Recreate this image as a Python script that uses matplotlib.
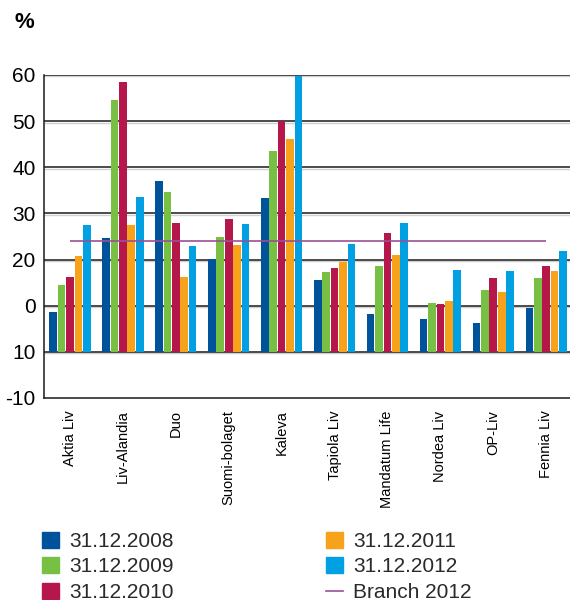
import matplotlib.pyplot as plt
import matplotlib.transforms as mtransforms
from matplotlib.patches import Patch
from matplotlib.lines import Line2D
import numpy as np

companies = ['Aktia Liv', 'Liv-Alandia', 'Duo', 'Suomi-bolaget', 'Kaleva',
             'Tapiola Liv', 'Mandatum Life', 'Nordea Liv', 'OP-Liv', 'Fennia Liv']
years = ['31.12.2008', '31.12.2009', '31.12.2010', '31.12.2011', '31.12.2012']

v2008 = [8.7, 24.7, 37.1, 20.2, 33.4, 15.6, 8.2, 7.2, 6.3, 9.5]
v2009 = [14.5, 54.6, 34.7, 24.9, 43.6, 17.3, 18.6, 10.6, 13.4, 16.0]
v2010 = [16.3, 58.5, 28.0, 28.8, 50.0, 18.2, 25.8, 10.4, 16.0, 18.6]
v2011 = [20.8, 27.5, 16.3, 23.2, 46.2, 19.5, 21.0, 11.1, 13.0, 17.6]
v2012 = [27.5, 33.6, 23.0, 27.7, 59.8, 23.4, 28.0, 17.8, 17.6, 21.9]
branch_2012 = 24.0

# y labels as printed on the original chart
ytick_values = [60, 50, 40, 30, 20, 10, 0, -10]
ytick_labels = ['60', '50', '40', '30', '20', '0', '10', '-10']

colors = ['#00529b', '#77c043', '#b5174a', '#f7a21b', '#00a0e2']
branch_color = '#9b4f96'

plt.rcParams['font.family'] = ['Liberation Sans Narrow', 'Liberation Sans', 'DejaVu Sans']

fig = plt.figure(figsize=(5.7, 6.0), dpi=100)
ax = fig.add_axes([0.0772, 0.3367, 0.9228, 0.5383])

x = np.arange(len(companies))
step = 0.159
width = 0.145
series = [v2008, v2009, v2010, v2011, v2012]
for i, vals in enumerate(series):
    ax.bar(x + (i - 2) * step, vals, width=width, color=colors[i], zorder=2)

ax.hlines(branch_2012, x[0], x[-1], color=branch_color, lw=1.2, zorder=3)

ax.set_xlim(-0.49, 9.45)
ax.set_ylim(-10, 60)
ax.set_yticks(ytick_values)
ax.set_yticklabels(ytick_labels, fontsize=15, family=['Liberation Sans', 'DejaVu Sans'])
for yv in ytick_values[:-1]:
    ax.axhline(yv, color='#1a1a1a', lw=1.1, zorder=1)
    ax.axhline(yv - 0.3, color='#d0d0d0', lw=1.0, zorder=0.9)

ax.set_xticks(x)
ax.set_xticklabels(companies, rotation=90, fontsize=10.5, va='top')
shift = mtransforms.ScaledTranslation(-2 / 100, 0, fig.dpi_scale_trans)
for lab in ax.get_xticklabels():
    lab.set_transform(lab.get_transform() + shift)

ax.tick_params(axis='both', length=0)
ax.tick_params(axis='y', pad=6)
ax.tick_params(axis='x', pad=9)
for s in ['top', 'right']:
    ax.spines[s].set_visible(False)
ax.spines['left'].set_color('#1a1a1a')
ax.spines['bottom'].set_color('#1a1a1a')
ax.spines['left'].set_linewidth(1.1)
ax.spines['bottom'].set_linewidth(1.1)

fig.text(0.026, 0.962, '%', fontsize=16, fontweight='bold', va='center',
         family=['Liberation Sans', 'DejaVu Sans'])

handles = [Patch(color=c) for c in colors]
handles.append(Line2D([], [], color=branch_color, lw=1.2))
labels = years + ['Branch 2012']
leg = fig.legend(handles, labels, ncol=2, loc='upper left',
                 bbox_to_anchor=(0.0737, 0.114), bbox_transform=fig.transFigure,
                 frameon=False, handlelength=0.82, handleheight=0.8, handletextpad=0.48,
                 labelspacing=0.31, columnspacing=7.3, borderpad=0, borderaxespad=0,
                 prop={'family': ['Liberation Sans', 'DejaVu Sans'], 'size': 15})
for t in leg.get_texts():
    t.set_color('#2a2a2a')

fig.savefig('out.png', dpi=100)
